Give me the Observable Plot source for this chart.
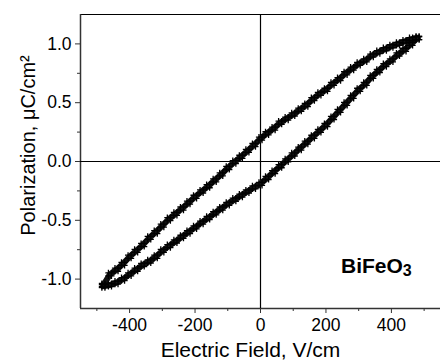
<!DOCTYPE html>
<html>
<head>
<meta charset="utf-8">
<script src="https://cdn.jsdelivr.net/npm/d3@7"></script>
<script src="https://cdn.jsdelivr.net/npm/@observablehq/plot@0.6"></script>
<style>
  html, body { margin: 0; padding: 0; background: #fff; }
  #chart { width: 440px; height: 361px; overflow: hidden; }
</style>
</head>
<body>
<div id="chart"></div>
<script>
// Electric field sample points (V/cm), shared by both branches
const field = [-480, -460, -440, -420, -400, -380, -360, -340, -320, -300, -280, -260, -240, -220, -200, -180, -160, -140, -120, -100, -80, -60, -40, -20, 0, 20, 40, 60, 80, 100, 120, 140, 160, 180, 200, 220, 240, 260, 280, 300, 320, 340, 360, 380, 400, 420, 440, 460, 480];

// Upper (descending-field) branch polarization, µC/cm²
const upperP = [-1.05, -0.96, -0.92, -0.87, -0.81, -0.76, -0.71, -0.65, -0.60, -0.545, -0.49, -0.445, -0.40, -0.35, -0.30, -0.255, -0.21, -0.16, -0.11, -0.055, -0.005, 0.04, 0.09, 0.14, 0.195, 0.24, 0.28, 0.33, 0.365, 0.40, 0.44, 0.48, 0.53, 0.575, 0.61, 0.66, 0.70, 0.75, 0.79, 0.83, 0.86, 0.90, 0.93, 0.955, 0.98, 1.00, 1.02, 1.04, 1.05];

// Lower (ascending-field) branch polarization, µC/cm²
const lowerP = [-1.06, -1.05, -1.03, -1.00, -0.96, -0.92, -0.88, -0.85, -0.81, -0.76, -0.72, -0.68, -0.64, -0.60, -0.56, -0.52, -0.48, -0.44, -0.40, -0.36, -0.325, -0.29, -0.255, -0.22, -0.19, -0.14, -0.09, -0.04, 0.01, 0.06, 0.11, 0.16, 0.21, 0.26, 0.31, 0.37, 0.43, 0.49, 0.55, 0.61, 0.66, 0.72, 0.77, 0.82, 0.86, 0.91, 0.95, 1.00, 1.05];

const xTicks = [-400, -200, 0, 200, 400];
const xMinorTicks = [-500, -300, -100, 100, 300, 500];
const yTicks = [-1.0, -0.5, 0.0, 0.5, 1.0];
const yMinorTicks = [-0.75, -0.25, 0.25, 0.75];

const xLabel = "Electric Field, V/cm";
const yLabel = "Polarization, μC/cm²";
const sampleLabel = "BiFeO";
const sampleSub = "3";

const upper = field.map((E, i) => ({E, P: upperP[i]}));
const lower = field.map((E, i) => ({E, P: lowerP[i]}));

const xDomain = [-550, 550];
const yDomain = [-1.25, 1.25];

// "#"-shaped marker, as in the original instrument plot
const hash = {
  draw(context, size) {
    const r = Math.sqrt(size / Math.PI);
    const o = r / 3;
    context.moveTo(-o, -r); context.lineTo(-o, r);
    context.moveTo(o, -r); context.lineTo(o, r);
    context.moveTo(-r, -o); context.lineTo(r, -o);
    context.moveTo(-r, o); context.lineTo(r, o);
  }
};

const chart = Plot.plot({
  width: 440,
  height: 361,
  marginTop: 14,
  marginRight: 0,
  marginBottom: 53,
  marginLeft: 80,
  style: {fontFamily: "'Liberation Sans', Arial, sans-serif", fontSize: "17px", color: "#000", background: "#fff"},
  x: {domain: xDomain, axis: null},
  y: {domain: yDomain, axis: null},
  marks: [
    // frame lines
    Plot.ruleY([yDomain[1]], {stroke: "#000", strokeWidth: 1.2}),
    Plot.ruleX([xDomain[0]], {stroke: "#333", strokeWidth: 1.5}),
    Plot.ruleY([yDomain[0]], {stroke: "#333", strokeWidth: 1.5}),
    // zero lines
    Plot.ruleX([0], {stroke: "#000", strokeWidth: 1.2}),
    Plot.ruleY([0], {stroke: "#000", strokeWidth: 1.2}),
    // axes
    Plot.axisX(xTicks, {tickSize: 5, tickPadding: 5, tickFormat: d => String(d), fontSize: 17.5, stroke: "#333", label: null}),
    Plot.axisX(xMinorTicks, {tickSize: 3, tickFormat: () => "", stroke: "#333", label: null}),
    Plot.axisY(yTicks, {tickSize: 5, tickPadding: 4, tickFormat: d => d.toFixed(1), fontSize: 17.5, stroke: "#333", label: null}),
    Plot.axisY(yMinorTicks, {tickSize: 3, tickFormat: () => "", stroke: "#333", label: null}),
    // data
    Plot.line(upper, {x: "E", y: "P", stroke: "#111", strokeWidth: 6}),
    Plot.line(lower, {x: "E", y: "P", stroke: "#111", strokeWidth: 6}),
    Plot.dot(upper, {x: "E", y: "P", symbol: hash, r: 4.6, stroke: "#000", strokeWidth: 1.3}),
    Plot.dot(lower, {x: "E", y: "P", symbol: hash, r: 4.6, stroke: "#000", strokeWidth: 1.3}),
    // labels
    Plot.text([xLabel], {frameAnchor: "bottom", textAnchor: "middle", dx: -10, dy: 48, lineAnchor: "bottom", fontSize: 21, fill: "#000"}),
    Plot.text([yLabel], {frameAnchor: "left", textAnchor: "middle", rotate: -90, dx: -52, dy: -16, lineAnchor: "middle", fontSize: 20, fill: "#000"}),
    Plot.text([{E: 246, P: -0.944, t: sampleLabel}], {x: "E", y: "P", text: "t", textAnchor: "start", lineAnchor: "bottom", fontWeight: "bold", fontSize: 21, fill: "#000"})
  ]
});

// add subscript to the sample label
d3.select(chart).selectAll("text").filter(function() { return this.textContent === sampleLabel; })
  .append("tspan").attr("dy", "0.22em").attr("font-size", 16).text(sampleSub);

document.getElementById("chart").appendChild(chart);
</script>
</body>
</html>
